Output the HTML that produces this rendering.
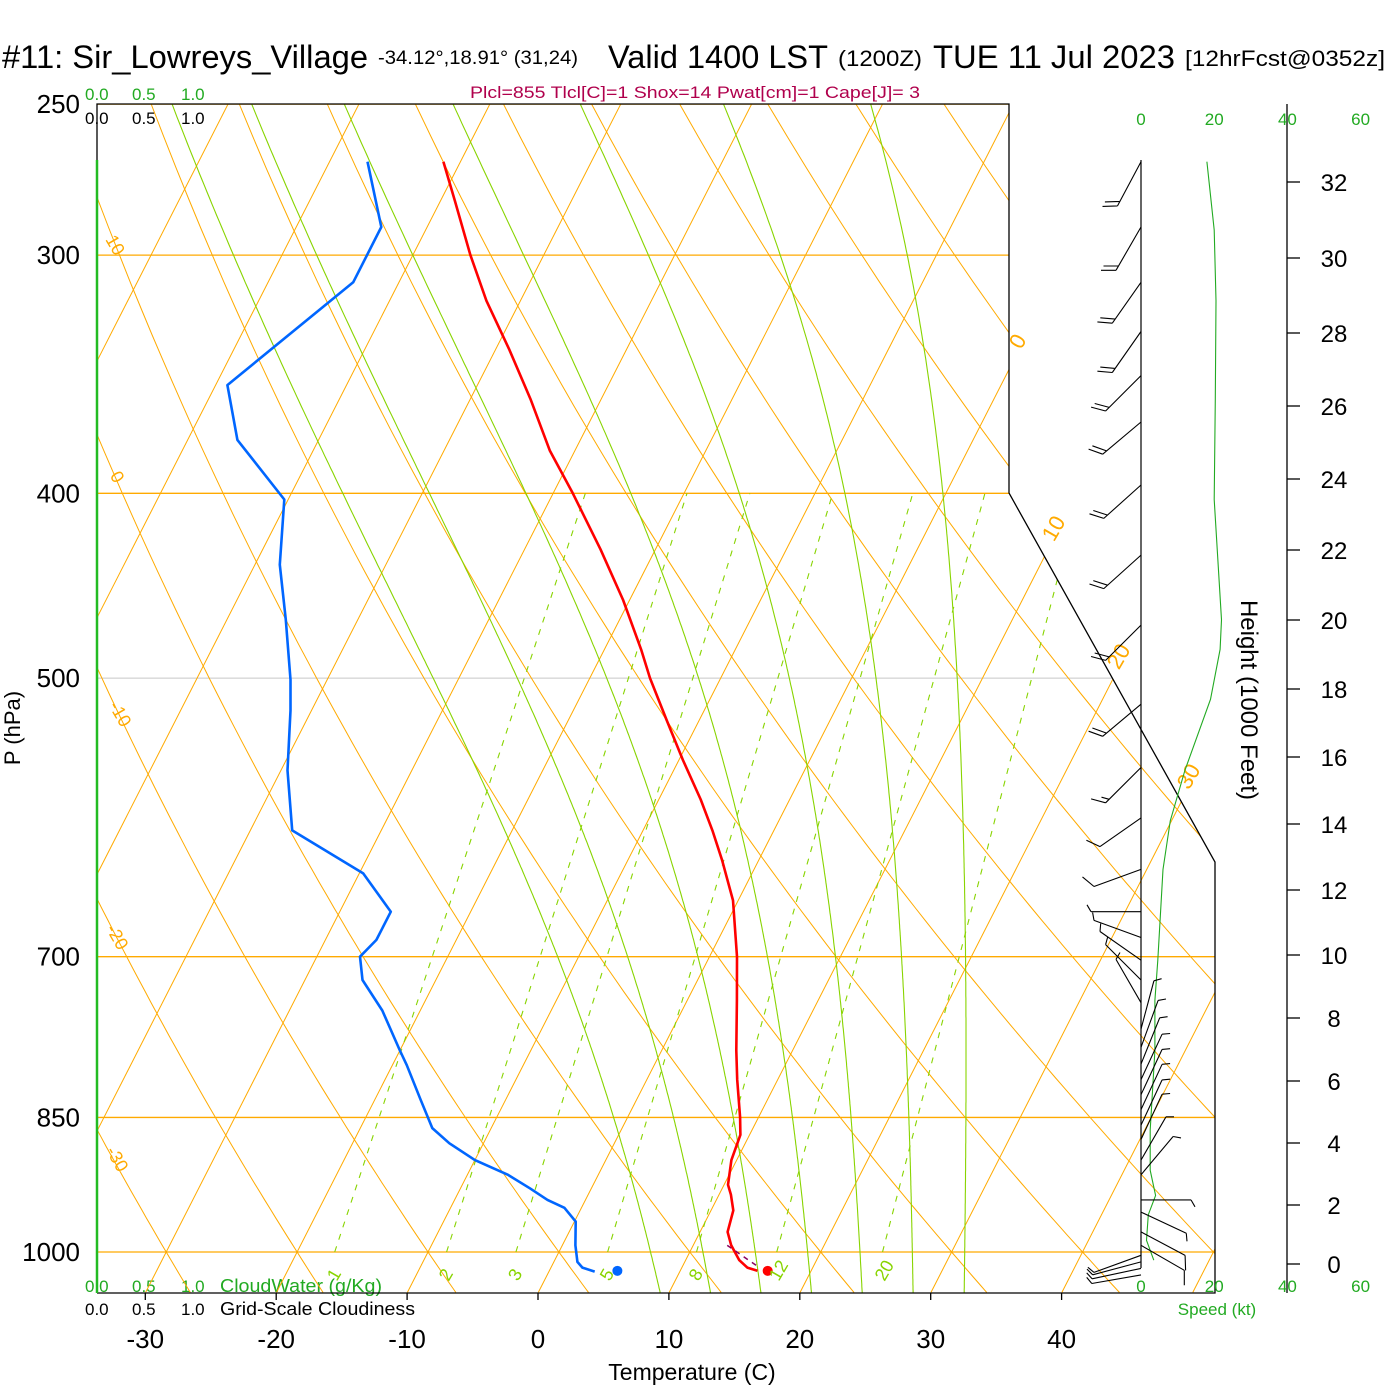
<!DOCTYPE html>
<html><head><meta charset="utf-8"><style>
html,body{margin:0;padding:0;background:#fff;}
svg{display:block;font-family:"Liberation Sans",sans-serif;}
</style></head><body>
<svg id="chart" width="1400" height="1400" viewBox="0 0 1400 1400">
<defs><clipPath id="plotclip"><polygon points="97,104 1009,104 1009,493 1215,862 1215,1293 97,1293"/></clipPath></defs>
<rect x="0" y="0" width="1400" height="1400" fill="#fff"/>
<g>
<text x="2" y="68" font-size="32" textLength="366" lengthAdjust="spacingAndGlyphs">#11: Sir_Lowreys_Village</text>
<text x="378" y="64" font-size="19" textLength="200" lengthAdjust="spacingAndGlyphs">-34.12°,18.91° (31,24)</text>
<text x="608" y="68" font-size="32" textLength="220" lengthAdjust="spacingAndGlyphs">Valid 1400 LST</text>
<text x="838" y="66" font-size="22" textLength="84" lengthAdjust="spacingAndGlyphs">(1200Z)</text>
<text x="933" y="68" font-size="32" textLength="242" lengthAdjust="spacingAndGlyphs">TUE 11 Jul 2023</text>
<text x="1185" y="66" font-size="22" textLength="200" lengthAdjust="spacingAndGlyphs">[12hrFcst@0352z]</text>
</g>
<text x="695" y="98" font-size="17" fill="#b0004c" text-anchor="middle" textLength="450" lengthAdjust="spacingAndGlyphs">Plcl=855 Tlcl[C]=1 Shox=14 Pwat[cm]=1 Cape[J]= 3</text>
<g font-size="17">
<text x="85" y="100" fill="#22aa22">0.0</text>
<text x="132" y="100" fill="#22aa22">0.5</text>
<text x="181" y="100" fill="#22aa22">1.0</text>
<text x="85" y="124" fill="#000">0.0</text>
<text x="132" y="124" fill="#000">0.5</text>
<text x="181" y="124" fill="#000">1.0</text>
</g>
<g font-size="17">
<text x="85" y="1292" fill="#22aa22">0.0</text>
<text x="132" y="1292" fill="#22aa22">0.5</text>
<text x="181" y="1292" fill="#22aa22">1.0</text>
<text x="220" y="1292" fill="#22aa22" font-size="18" textLength="162" lengthAdjust="spacingAndGlyphs">CloudWater (g/Kg)</text>
<text x="85" y="1315" fill="#000">0.0</text>
<text x="132" y="1315" fill="#000">0.5</text>
<text x="181" y="1315" fill="#000">1.0</text>
<text x="220" y="1315" fill="#000" font-size="18" textLength="195" lengthAdjust="spacingAndGlyphs">Grid-Scale Cloudiness</text>
</g>
<g id="grid" clip-path="url(#plotclip)"></g>
<g id="profiles"></g>
<g id="frame"></g>
<g id="labels"></g>
<g id="winds"></g>
<text x="20" y="728" font-size="22" text-anchor="middle" transform="rotate(-90 20 728)">P (hPa)</text>
<text x="692" y="1380" font-size="23" text-anchor="middle">Temperature (C)</text>
<text x="1241" y="700" font-size="24" text-anchor="middle" transform="rotate(90 1241 700)">Height (1000 Feet)</text>
<text x="1217" y="1315" font-size="17" fill="#22aa22" text-anchor="middle">Speed (kt)</text>
</svg>
<script>
// ---- data ----
const pressureTicks = [250,300,400,500,700,850,1000];
const tempTicks = [-30,-20,-10,0,10,20,30,40];
const tempP = [268,281,300,317,336,357,380,400,428,455,483,500,526,552,579,601,623,654,700,738,784,812,850,868,895,922,933,951,976,992,1010,1019,1023];
const tempT = [-51.3,-48.9,-45.6,-42.6,-39.0,-35.4,-31.9,-28.5,-24.2,-20.5,-17.2,-15.4,-12.5,-9.7,-6.8,-4.7,-2.8,-0.4,2.1,3.8,5.7,6.9,8.6,9.3,9.6,10.3,10.9,11.7,12.1,12.9,14.1,15.0,15.9];
const dewP = [268,290,310,351,375,403,436,466,501,520,559,601,633,663,686,700,720,747,784,798,832,861,877,895,911,926,939,948,964,992,1012,1019,1024];
const dewT = [-57.1,-53.5,-53.5,-59.1,-56.2,-50.3,-48.1,-45.5,-42.8,-41.6,-39.5,-36.8,-29.7,-26.1,-26.1,-26.7,-25.6,-22.9,-20.0,-18.9,-16.5,-14.5,-12.6,-10.0,-6.9,-4.7,-2.9,-1.3,0.1,1.0,1.8,2.4,3.5];
const sfcT = 16.3, sfcTd = 5.2, sfcP = 1023;
const isotherms = [-110,-100,-90,-80,-70,-60,-50,-40,-30,-20,-10,0,10,20,30,40,50];
const dryAdiabats = [-40,-30,-20,-10,0,10,20,30,40,50,60,70,80,90,100,110,120,130,140,150,160];
const moistAdiabats = [7,11,15,19,23,27,31];
const mixingRatios = [1,2,3,5,8,12,20];
const heightTicks = [0,2,4,6,8,10,12,14,16,18,20,22,24,26,28,30,32];
const heightTickY = [1264,1205,1143,1081,1018,955,890,824,757,689,620,550,479,406,333,258,182];
const speedP = [268,291,317,357,403,466,483,513,559,594,630,703,738,784,863,906,934,956,986,1010];
const speedKt = [18,20,20.5,20.3,20,22,21.6,19,12,8,6,4.6,3.8,3.8,2.5,2.5,4,2,1.5,3.5];
const barbP = [268,290,310,329,347,367,396,431,469,516,557,592,630,663,684,703,720,740,764,781,797,812,827,842,858,873,895,911,939,953,976,992,1004,1012,1020,1028];
const barbDir = [208,210,215,215,225,230,228,228,225,230,225,235,250,270,290,305,315,330,15,20,22,25,25,25,25,25,30,40,90,115,118,120,250,255,258,260];
const barbSpd = [20,20,20,20,20,20,20,20,20,20,15,10,10,5,5,5,5,5,5,5,5,5,5,5,5,5,5,5,5,5,10,10,5,5,5,5];

// ---- axes ----
const NS = 'http://www.w3.org/2000/svg';
function yP(p){ return 1252 + 828*Math.log(p/1000); }
function xT(T,p){ return 538 + 13.09*T + 0.51*(1293 - yP(p)); }
function mk(tag, attrs, parent){ const e=document.createElementNS(NS,tag); for(const k in attrs) e.setAttribute(k,attrs[k]); parent.appendChild(e); return e; }
function ptsStr(arr){ return arr.map(a=>a[0].toFixed(1)+','+a[1].toFixed(1)).join(' '); }
const grid=document.getElementById('grid'), prof=document.getElementById('profiles'), frame=document.getElementById('frame'), labels=document.getElementById('labels'), winds=document.getElementById('winds');
const ORANGE='#ffaa00', LGREEN='#88d400';

pressureTicks.forEach(p=>{
  const gray = (p===500);
  const l=mk('line',{x1:97,x2:1215,y1:yP(p),y2:yP(p),stroke:gray?'#c8c8c8':ORANGE,'stroke-width':gray?1:1.3},grid);
  
  
});
isotherms.forEach(T=>{
  const l=mk('line',{x1:xT(T,1050),y1:yP(1050),x2:xT(T,250),y2:yP(250),stroke:ORANGE,'stroke-width':1},grid);
  
  
});
dryAdiabats.forEach(th=>{
  const pts=[]; const tk=th+273.15;
  for(let p=1050;p>=250;p-=10){ pts.push([xT(tk*Math.pow(p/1000,0.2857)-273.15,p),yP(p)]); }
  const l=mk('polyline',{points:ptsStr(pts),fill:'none',stroke:ORANGE,'stroke-width':1},grid);
  
  
});
function es(Tc){ return 6.112*Math.exp(17.67*Tc/(Tc+243.5)); }
function dTdp(Tk,p){ const e=es(Tk-273.15); const rs=0.9*0.622*e/(p-e); return (287*Tk+2.5e6*rs)/(p*(1004+2.5e6*2.5e6*rs*0.622/(287*Tk*Tk))); }
moistAdiabats.forEach(T0=>{
  const up=[]; let T=T0+273.15;
  for(let p=1000;p>=250;p-=2){ up.push([xT(T-273.15,p),yP(p)]); T-= dTdp(T,p)*2; }
  const dn=[]; T=T0+273.15;
  for(let p=1000;p<=1052;p+=2){ dn.push([xT(T-273.15,p),yP(p)]); T+= dTdp(T,p)*2; }
  const pts=dn.reverse().concat(up);
  const l=mk('polyline',{points:ptsStr(pts),fill:'none',stroke:LGREEN,'stroke-width':1.1},grid);
  
  
});
function tdFromW(w,p){ const e=w*p/(622+w); const a=Math.log(e/6.112); return 243.5*a/(17.67-a); }
mixingRatios.forEach(w=>{
  const l=mk('line',{x1:xT(tdFromW(w,1000),1000),y1:yP(1000),x2:xT(tdFromW(w,400),400),y2:yP(400),stroke:LGREEN,'stroke-width':1.1,'stroke-dasharray':'6,7'},grid);
  
  
  const tx=xT(tdFromW(w,1000),1000);
  const t=mk('text',{x:tx+2,y:1282,'font-size':18,fill:LGREEN,transform:'rotate(-60 '+(tx+2)+' 1282)'},labels);
  t.textContent=w;
  
  
});
function profile(P,T,color,name){
  const pts=P.map((p,i)=>[xT(T[i],p),yP(p)]);
  const l=mk('polyline',{points:ptsStr(pts),fill:'none',stroke:color,'stroke-width':2.6,'stroke-linejoin':'round'},prof);
  
  
}
profile(tempP,tempT,'#ff0000','temperature-profile');
profile(dewP,dewT,'#0066ff','dewpoint-profile');
const pl=mk('line',{x1:xT(12.6,992),y1:yP(992),x2:xT(15.8,1018),y2:yP(1018),stroke:'#8a0060','stroke-width':1.5,'stroke-dasharray':'5,5'},prof);


const c1=mk('circle',{cx:xT(sfcT,sfcP)+5,cy:yP(sfcP),r:5,fill:'#ff0000'},prof);


const c2=mk('circle',{cx:xT(sfcTd,sfcP),cy:yP(sfcP),r:5,fill:'#0066ff'},prof);



const fr=mk('polyline',{points:'97,160 97,104 1009,104 1009,493 1215,862 1215,1293 97,1293',fill:'none',stroke:'#000','stroke-width':1.3},frame);


const gl=mk('line',{x1:97,y1:160,x2:97,y2:1293,stroke:'#22bb22','stroke-width':2.5},frame);


pressureTicks.forEach(p=>{
  const t=mk('text',{x:80,y:yP(p)+9,'font-size':26,'text-anchor':'end'},labels);
  t.textContent=p;
  
  
});
tempTicks.forEach(T=>{
  const x=538+13.09*T;
  const tk=mk('line',{x1:x,x2:x,y1:1293,y2:1300,stroke:'#000','stroke-width':1.3},frame);
  
  
  const t=mk('text',{x:x,y:1348,'font-size':26,'text-anchor':'middle'},labels);
  t.textContent=T;
  
  
});
const isoLab=[[0,1024,345],[10,1060,532],[20,1125,660],[30,1195,780]];
isoLab.forEach(a=>{
  const t=mk('text',{x:a[1],y:a[2],'font-size':22,fill:ORANGE,'text-anchor':'middle',transform:'rotate(-60 '+a[1]+' '+a[2]+')'},labels);
  t.textContent=a[0];
  
  
});
const thLab=[[10,110,248],[0,112,480],[-10,115,717],[-20,112,940],[-30,112,1162]];
thLab.forEach(a=>{
  const t=mk('text',{x:a[1],y:a[2],'font-size':18,fill:ORANGE,'text-anchor':'middle',transform:'rotate(60 '+a[1]+' '+a[2]+')'},labels);
  t.textContent=a[0];
  
  
});
const ha=mk('line',{x1:1287,x2:1287,y1:104,y2:1293,stroke:'#000','stroke-width':1.3},winds);


heightTicks.forEach((h,i)=>{
  const y=heightTickY[i];
  const tk=mk('line',{x1:1287,x2:1300,y1:y,y2:y,stroke:'#000','stroke-width':1.3},winds);
  
  
  const t=mk('text',{x:1334,y:y+9,'font-size':24,'text-anchor':'middle'},winds);
  t.textContent=h;
  
  
});
[0,20,40,60].forEach(s=>{
  const x=1141+3.66*s;
  const t1=mk('text',{x:x,y:125,'font-size':17,fill:'#22aa22','text-anchor':'middle'},winds);
  t1.textContent=s;
  
  
  const t2=mk('text',{x:x,y:1292,'font-size':17,fill:'#22aa22','text-anchor':'middle'},winds);
  t2.textContent=s;
  
  
});
const ba=mk('line',{x1:1141,x2:1141,y1:160,y2:1268,stroke:'#000','stroke-width':1.2},winds);


const sp=mk('polyline',{points:ptsStr(speedP.map((p,i)=>[1141+3.66*speedKt[i],yP(p)])),fill:'none',stroke:'#22aa22','stroke-width':1.1},winds);


barbP.forEach((p,i)=>{
  const y=yP(p), d=barbDir[i]*Math.PI/180;
  const ux=Math.sin(d), uy=-Math.cos(d), L=50;
  const ex=1141+L*ux, ey=y+L*uy;
  const ca=Math.cos(Math.PI/3), sa=Math.sin(Math.PI/3);
  const fx=ux*ca-uy*sa, fy=ux*sa+uy*ca;
  let d2='M1141 '+y.toFixed(1)+' L'+ex.toFixed(1)+' '+ey.toFixed(1);
  let s=barbSpd[i], k=0;
  while(s>=10){ const bx=ex-ux*5*k, by=ey-uy*5*k; d2+=' M'+bx.toFixed(1)+' '+by.toFixed(1)+' l'+(fx*15).toFixed(1)+' '+(fy*15).toFixed(1); s-=10; k++; }
  if(s>=5){ const bx=ex-ux*5*k, by=ey-uy*5*k; d2+=' M'+bx.toFixed(1)+' '+by.toFixed(1)+' l'+(fx*8).toFixed(1)+' '+(fy*8).toFixed(1); }
  const b=mk('path',{d:d2,fill:'none',stroke:'#000','stroke-width':1.1},winds);
  
  
});
</script>
</body></html>
